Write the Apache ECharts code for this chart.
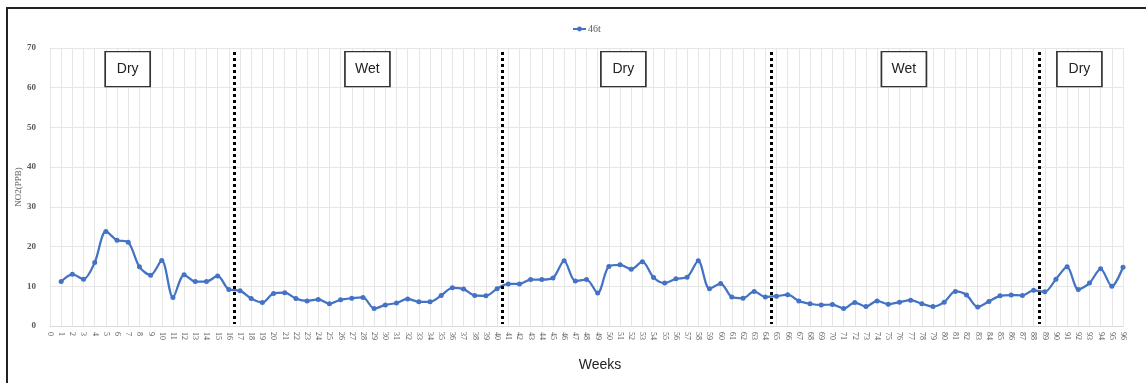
<!DOCTYPE html>
<html>
<head>
<meta charset="utf-8">
<script src="https://cdn.jsdelivr.net/npm/echarts@6/dist/echarts.min.js"></script>
<style>html,body{margin:0;padding:0;background:#fff}#c{width:1146px;height:383px}</style>
</head>
<body>
<div id="c"></div>
<script>
var weeks = [];
for (var w = 1; w <= 96; w++) weeks.push(w);
var no2 = [
 11.2, 13.0, 11.8, 16.0, 23.8, 21.6, 21.1, 14.9, 12.8, 16.5,
 7.2, 12.9, 11.2, 11.2, 12.6, 9.2, 8.9, 6.9, 5.9, 8.2,
 8.4, 6.9, 6.3, 6.7, 5.6, 6.6, 7.0, 7.2, 4.4, 5.3,
 5.8, 6.8, 6.1, 6.1, 7.7, 9.6, 9.3, 7.7, 7.6, 9.4,
 10.6, 10.6, 11.7, 11.7, 12.1, 16.4, 11.3, 11.7, 8.3, 15.0,
 15.4, 14.3, 16.2, 12.2, 10.8, 11.9, 12.3, 16.4, 9.4, 10.7,
 7.3, 7.0, 8.7, 7.3, 7.5, 7.9, 6.3, 5.6, 5.3, 5.4,
 4.4, 5.9, 4.9, 6.3, 5.5, 6.0, 6.5, 5.6, 4.9, 6.0,
 8.7, 7.8, 4.8, 6.2, 7.6, 7.8, 7.7, 9.0, 8.6, 11.8,
 14.9, 9.2, 10.8, 14.4, 10.0, 14.8
];
var seasonBreaks = [16.5, 40.5, 64.5, 88.5];
var seasonLabels = ['Dry', 'Wet', 'Dry', 'Wet', 'Dry'];
var seasonLabelX = [6.95, 28.4, 51.3, 76.4, 92.1];
var seasonLabelY = 64.7;

var pts = weeks.map(function (w, i) { return [w, no2[i]]; });
var serif = '"Liberation Serif", "DejaVu Serif", serif';
var sans = '"Liberation Sans", Arial, sans-serif';

var chart = echarts.init(document.getElementById('c'));
chart.setOption({
  animation: false,
  backgroundColor: '#fff',
  legend: {
    data: ['46t'], top: 19, left: 567, itemWidth: 13, itemHeight: 6, itemGap: 4,
    textStyle: { fontFamily: serif, fontSize: 10, color: '#595959', padding: [0, 0, 0, -3] }
  },
  grid: { left: 50, right: 23, top: 48, bottom: 57 },
  xAxis: {
    type: 'value', min: 0, max: 96, interval: 1,
    axisLine: { show: true, lineStyle: { color: '#d9d9d9' } },
    axisTick: { show: false },
    axisLabel: { rotate: -90, margin: 6, fontFamily: serif, fontSize: 8, color: '#595959' },
    splitLine: { show: true, lineStyle: { color: '#e6e6e6', width: 1 } }
  },
  yAxis: {
    type: 'value', min: 0, max: 70, interval: 10,
    axisLine: { show: false }, axisTick: { show: false },
    axisLabel: { margin: 14, fontFamily: serif, fontSize: 9, fontWeight: 'bold', color: '#595959' },
    splitLine: { lineStyle: { color: '#e6e6e6', width: 1 } }
  },
  series: [{
    name: '46t', type: 'line', data: pts, smooth: 0.3,
    symbol: 'circle', symbolSize: 5,
    lineStyle: { color: '#4472C4', width: 2.25 },
    itemStyle: { color: '#4472C4' },
    markLine: {
      silent: true, symbol: ['none', 'none'], label: { show: false },
      lineStyle: { color: '#000', type: [3, 3], width: 3 },
      data: seasonBreaks.map(function (b) { return [{ coord: [b, 69] }, { coord: [b, 0.5] }]; })
    },
    markPoint: {
      silent: true, symbol: 'rect', symbolSize: [45, 35],
      itemStyle: { color: '#fff', borderColor: '#333', borderWidth: 1.5 },
      label: { show: true, position: 'inside', fontFamily: sans, fontSize: 14, color: '#222' },
      data: seasonLabels.map(function (s, i) {
        return { coord: [seasonLabelX[i], seasonLabelY], value: s, label: { formatter: s } };
      })
    }
  }],
  graphic: [
    { type: 'line', shape: { x1: 6, y1: 8, x2: 1146, y2: 8 }, style: { stroke: '#222', lineWidth: 2 } },
    { type: 'line', shape: { x1: 7, y1: 7, x2: 7, y2: 383 }, style: { stroke: '#222', lineWidth: 2 } },
    { type: 'text', x: 19, y: 187, rotation: Math.PI / 2, style: { text: 'NO2(PPB)', fontFamily: serif, fontSize: 9, fill: '#595959', textAlign: 'center', textVerticalAlign: 'middle' } },
    { type: 'text', x: 600, y: 365, style: { text: 'Weeks', fontFamily: sans, fontSize: 14, fill: '#222', textAlign: 'center', textVerticalAlign: 'middle' } }
  ]
});
</script>
</body>
</html>
